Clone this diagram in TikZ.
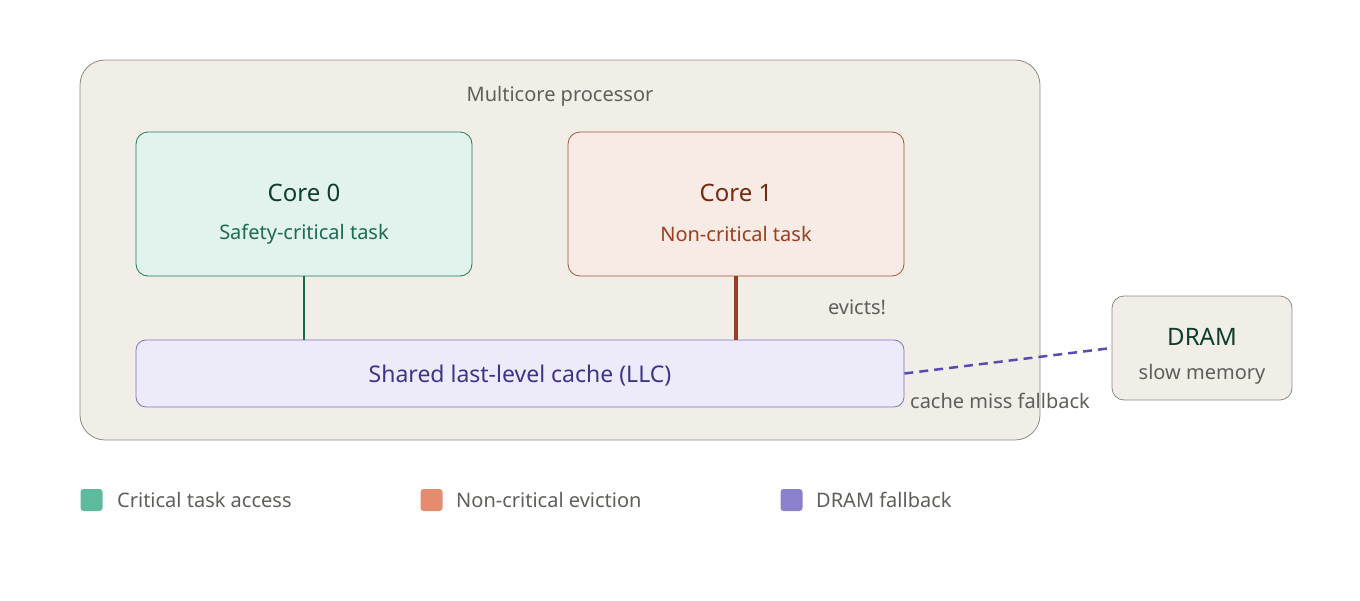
\documentclass[tikz,border=0pt]{standalone}
\usepackage{fontspec}
\setmainfont{Noto Sans}
\definecolor{bgbox}{HTML}{F1EEE7}
\definecolor{graystroke}{HTML}{8A8A85}
\definecolor{graytext}{HTML}{5F5E5A}
\definecolor{gfill}{HTML}{E1F3EC}
\definecolor{gstroke}{HTML}{1D7A5A}
\definecolor{gdark}{HTML}{0E3D2C}
\definecolor{gtext}{HTML}{1C6B4F}
\definecolor{ofill}{HTML}{F8EAE4}
\definecolor{ostroke}{HTML}{A0533A}
\definecolor{odark}{HTML}{74290F}
\definecolor{otext}{HTML}{9A3F1E}
\definecolor{pfill}{HTML}{EDEBFA}
\definecolor{pstroke}{HTML}{7D72C8}
\definecolor{ptext}{HTML}{3C3489}
\definecolor{pline}{HTML}{5B4AB0}
\definecolor{lg}{HTML}{5DBA9C}
\definecolor{lo}{HTML}{E58C6E}
\definecolor{lp}{HTML}{8B80CC}
\begin{document}
\begin{tikzpicture}[x=1pt,y=-1pt,
  box/.style={draw, rounded corners=12pt, line width=0.8pt},
  lbl/.style={text=graytext, font=\fontsize{20}{24}\selectfont, inner sep=0},
  title/.style={font=\fontsize{24}{28}\selectfont\bfseries, inner sep=0},
  sub/.style={font=\fontsize{20}{24}\selectfont, inner sep=0},
  sq/.style={rounded corners=3pt, minimum size=22pt, inner sep=0}]
\useasboundingbox (0,0) rectangle (1360,600);
\draw[box, fill=bgbox, draw=graystroke, rounded corners=25pt] (80,60) rectangle (1040,440);
\node[lbl] (mp) at (560,96) {Multicore processor};
\node[box, fill=gfill, draw=gstroke, minimum width=336pt, minimum height=144pt] (c0) at (304,204) {};
\node[title, text=gdark] (c0t) at (304,193) {Core 0};
\node[sub, text=gtext] (c0s) at (304,234) {Safety-critical task};
\node[box, fill=ofill, draw=ostroke, minimum width=336pt, minimum height=144pt] (c1) at (736,204) {};
\node[title, text=odark] (c1t) at (736,193) {Core 1};
\node[sub, text=otext] (c1s) at (736,234) {Non-critical task};
\node[box, fill=pfill, draw=pstroke, rounded corners=10pt, minimum width=768pt, minimum height=67pt] (llc) at (520,373.5) {};
\node[font=\fontsize{23}{27}\selectfont, text=ptext, inner sep=0] (llct) at (520,376) {Shared last-level cache (LLC)};
\draw[gstroke!85!black, line width=2.5pt] (c0.south) -- (c0.south |- llc.north);
\draw[otext, line width=4pt] (c1.south) -- (c1.south |- llc.north);
\node[lbl] (ev) at (857,307) {evicts!};
\node[box, fill=bgbox, draw=graystroke, minimum width=180pt, minimum height=104pt] (dram) at (1202,348) {};
\node[title, text=gdark] (dt) at (1202,337) {DRAM};
\node[lbl] (ds) at (1202,374) {slow memory};
\draw[pline, line width=2.5pt, dash pattern=on 9pt off 6pt] (llc.east) -- (dram.west);
\node[lbl] (cm) at (1000,401) {cache miss fallback};
\node[sq, fill=lg] (l1) at (91.5,500) {};
\node[lbl, anchor=west] (l1t) at (117,500) {Critical task access};
\node[sq, fill=lo] (l2) at (431.5,500) {};
\node[lbl, anchor=west] (l2t) at (456,500) {Non-critical eviction};
\node[sq, fill=lp] (l3) at (791.5,500) {};
\node[lbl, anchor=west] (l3t) at (816,500) {DRAM fallback};
\end{tikzpicture}
\end{document}
